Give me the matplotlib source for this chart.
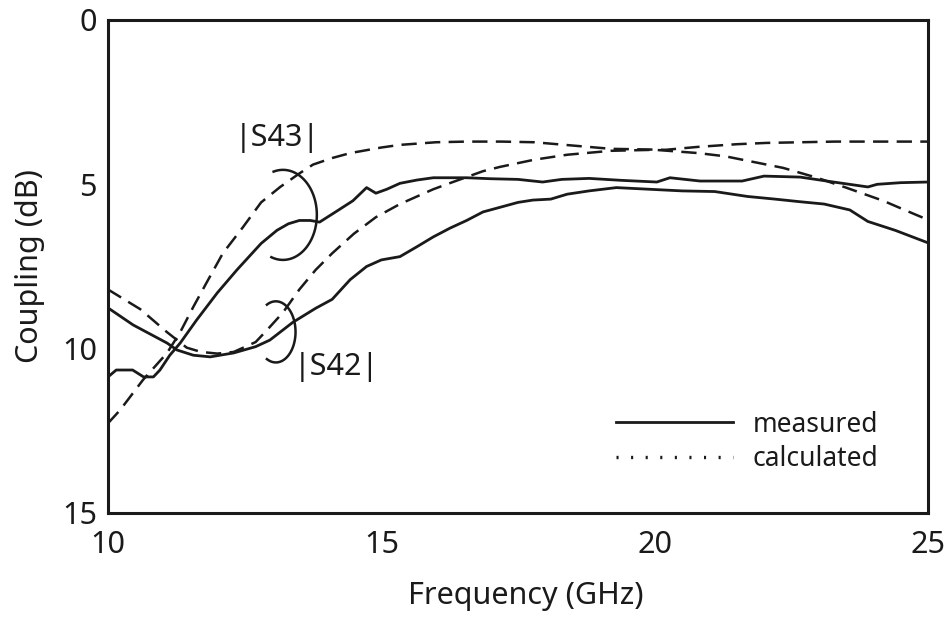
import numpy as np
import matplotlib
matplotlib.use("Agg")
import matplotlib.pyplot as plt
from matplotlib.lines import Line2D

plt.rcParams['font.family'] = ['Noto Sans', 'DejaVu Sans']
plt.rcParams['lines.scale_dashes'] = False

# |S43| measured
s43_meas_f = [10.0, 10.15, 10.45, 10.65, 10.83, 10.95, 11.13, 11.32, 11.62, 12.0, 12.36,
              12.8, 13.09, 13.3, 13.5, 13.7, 13.87, 14.2, 14.48, 14.73, 14.9, 15.1, 15.34,
              15.65, 15.95, 16.56, 17.0, 17.5, 17.95, 18.3, 18.8, 19.4, 20.04, 20.28, 20.83,
              21.6, 22.0, 22.66, 23.27, 23.9, 24.07, 24.5, 25.0]
s43_meas_db = [10.86, 10.65, 10.65, 10.86, 10.86, 10.65, 10.2, 9.83, 9.13, 8.3, 7.6,
               6.8, 6.4, 6.2, 6.1, 6.1, 6.15, 5.8, 5.5, 5.1, 5.27, 5.15, 4.97,
               4.87, 4.8, 4.8, 4.83, 4.85, 4.93, 4.85, 4.82, 4.88, 4.93, 4.8, 4.9,
               4.9, 4.75, 4.78, 4.93, 5.08, 5.0, 4.95, 4.93]

# |S42| measured
s42_meas_f = [10.0, 10.46, 11.08, 11.26, 11.56, 11.87, 12.3, 12.7, 12.96, 13.38, 13.8,
              14.1, 14.43, 14.73, 15.0, 15.34, 15.65, 15.95, 16.26, 16.56, 16.86, 17.17,
              17.5, 17.77, 18.1, 18.4, 18.8, 19.3, 19.9, 20.5, 21.1, 21.7, 22.2, 22.66,
              23.1, 23.57, 23.9, 24.4, 25.0]
s42_meas_db = [8.76, 9.28, 9.83, 10.04, 10.2, 10.25, 10.13, 9.94, 9.74, 9.2, 8.77,
               8.5, 7.9, 7.5, 7.3, 7.2, 6.9, 6.6, 6.33, 6.1, 5.84, 5.7,
               5.55, 5.48, 5.45, 5.3, 5.2, 5.1, 5.15, 5.2, 5.22, 5.37, 5.45, 5.53,
               5.6, 5.78, 6.13, 6.4, 6.78]

# |S43| calculated
s43_calc_f = [10.0, 10.22, 10.64, 11.08, 11.32, 11.56, 11.8, 12.1, 12.47, 12.8, 13.15,
              13.5, 13.75, 14.1, 14.43, 15.0, 15.34, 16.0, 16.56, 17.2, 17.8, 18.5,
              19.2, 20.2, 20.8, 21.5, 22.05, 23.3, 25.0]
s43_calc_db = [12.27, 11.87, 10.95, 10.13, 9.5, 8.73, 8.0, 7.1, 6.3, 5.55, 5.08,
               4.67, 4.4, 4.2, 4.05, 3.88, 3.8, 3.72, 3.7, 3.7, 3.72, 3.82,
               3.92, 3.95, 3.86, 3.78, 3.74, 3.7, 3.7]

# |S42| calculated
s42_calc_f = [10.0, 10.59, 11.08, 11.44, 11.7, 12.0, 12.3, 12.7, 12.9, 13.2, 13.5,
              13.8, 14.1, 14.5, 14.9, 15.34, 15.95, 16.26, 16.86, 17.17, 17.8, 18.4,
              19.2, 20.0, 20.8, 21.3, 22.05, 22.35, 22.97, 23.5, 24.18, 24.6, 25.0]
s42_calc_db = [8.2, 8.8, 9.5, 9.97, 10.1, 10.15, 10.1, 9.8, 9.45, 8.9, 8.2,
               7.6, 7.1, 6.5, 6.0, 5.6, 5.15, 4.96, 4.6, 4.47, 4.25, 4.1,
               3.98, 3.95, 4.05, 4.15, 4.4, 4.5, 4.8, 5.1, 5.5, 5.8, 6.08]

x_ticks = [10, 15, 20, 25]
y_ticks = [0, 5, 10, 15]

fig = plt.figure(figsize=(9.51, 6.17), dpi=100)
ax = fig.add_axes([0.1136, 0.1686, 0.8622, 0.799])

ink = '#1a1a1a'
lw_curve = 2.0
dash = (0, (11, 6))

ax.plot(s43_meas_f, s43_meas_db, color=ink, lw=lw_curve, solid_joinstyle='round')
ax.plot(s42_meas_f, s42_meas_db, color=ink, lw=lw_curve, solid_joinstyle='round')
ax.plot(s43_calc_f, s43_calc_db, color=ink, lw=1.8, linestyle=dash)
ax.plot(s42_calc_f, s42_calc_db, color=ink, lw=1.8, linestyle=dash)

ax.set_xlim(10, 25)
ax.set_ylim(15, 0)
ax.set_xticks(x_ticks)
ax.set_yticks(y_ticks)
ax.tick_params(direction='in', length=7, width=1.5, labelsize=22, colors=ink,
               top=True, right=True)
ax.tick_params(axis='x', pad=12)
ax.tick_params(axis='y', pad=8)
for t in ax.xaxis.get_major_ticks() + ax.yaxis.get_major_ticks():
    t.tick1line.set_visible(t.get_loc() not in (10, 25, 0, 15))
    t.tick2line.set_visible(t.get_loc() not in (10, 25, 0, 15))
for s in ax.spines.values():
    s.set_linewidth(2.2)
    s.set_color(ink)

ax.set_xlabel('Frequency (GHz)', fontsize=22, color=ink)
ax.xaxis.set_label_coords(0.51, -0.137)
ax.set_ylabel('Coupling (dB)', fontsize=22, color=ink, labelpad=12)

# bracket loops tying each label to its pair of curves
def bracket(cx, cy, rx, ry, a0, a1):
    t = np.radians(np.linspace(a0, a1, 80))
    ax.plot(cx + rx * np.cos(t), cy - ry * np.sin(t), color=ink, lw=1.8)

bracket(13.2, 5.93, 0.62, 1.37, -110, 106)
bracket(13.07, 9.49, 0.36, 0.93, -117, 117)

ax.text(13.09, 3.6, '|S43|', fontsize=22, ha='center', va='center', color=ink)
ax.text(14.17, 10.56, '|S42|', fontsize=22, ha='center', va='center', color=ink)

handles = [Line2D([], [], color=ink, lw=2.0),
           Line2D([], [], color=ink, lw=2.4, linestyle=(0, (1.5, 9)))]
ax.legend(handles, ['measured', 'calculated'], loc='center left',
          bbox_to_anchor=(0.604, 0.144), frameon=False, fontsize=19,
          handlelength=4.4, handletextpad=0.75, labelspacing=0.25, borderpad=0,
          labelcolor=ink)

fig.savefig('out.png', dpi=100)
